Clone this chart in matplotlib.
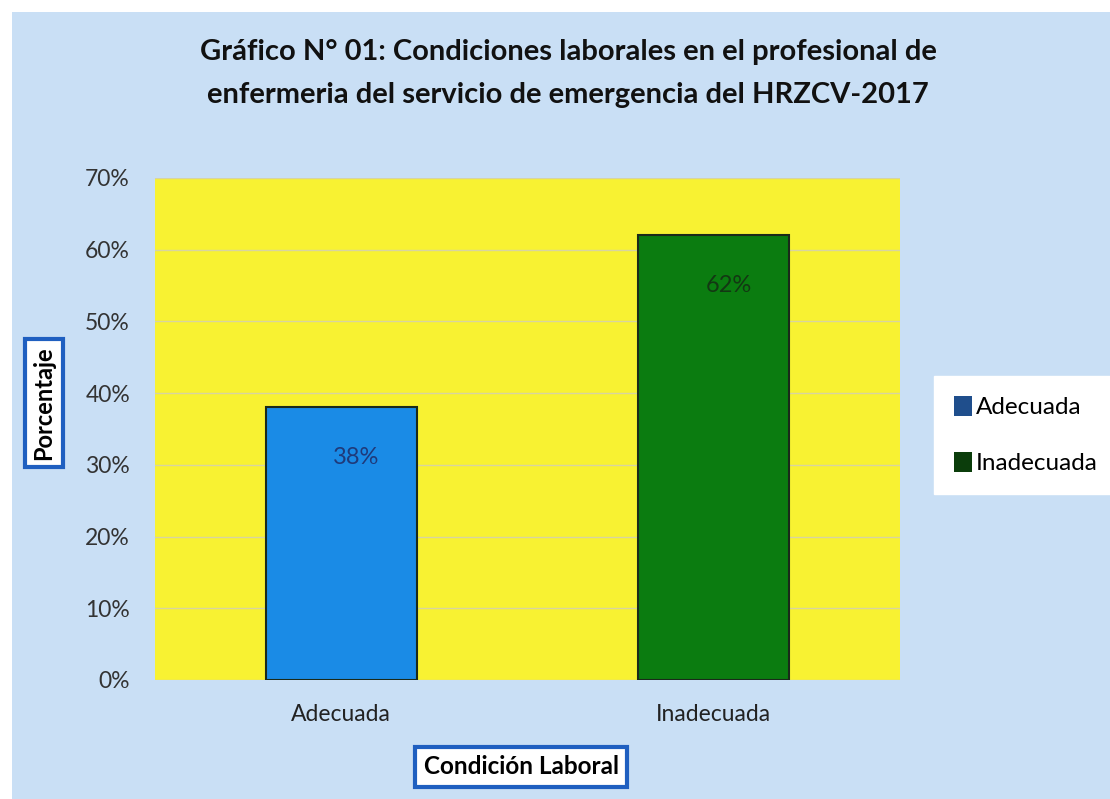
import matplotlib.pyplot as plt
from matplotlib.patches import Rectangle, Patch

categories = ['Adecuada', 'Inadecuada']
values = [38, 62]
labels = ['38%', '62%']
yticks = [0, 10, 20, 30, 40, 50, 60, 70]

plt.rcParams['font.family'] = ['Lato', 'DejaVu Sans']

fig = plt.figure(figsize=(11.1, 7.99), dpi=100)
fig.patch.set_facecolor('white')
fig.patches.append(Rectangle((12 / 1110, 0), 1, 1 - 12 / 799, transform=fig.transFigure,
                             facecolor='#C9DFF5', edgecolor='none', zorder=-10))

ax = fig.add_axes([155 / 1110, 1 - 680 / 799, 745 / 1110, 502 / 799])
ax.set_facecolor('#F8F232')

x = list(range(len(categories)))
bars = ax.bar(x, values, width=0.405, color=['#1A8BE6', '#0B7C10'],
              edgecolor='#1a2a1a', linewidth=1.5, zorder=3)
for xi, v, lab, c in zip(x, values, labels, ['#1F3A7A', '#133813']):
    ax.text(xi + 0.04, v - 7, lab, ha='center', va='center', fontsize=17,
            color=c, zorder=4)

ax.set_xlim(-0.5, 1.5)
ax.set_ylim(0, 70)
ax.set_yticks(yticks)
ax.set_yticklabels([f'{t}%' for t in yticks], fontsize=16.5, color='#333333')
ax.set_xticks(x)
ax.set_xticklabels(categories, fontsize=16.5, color='#222222')
ax.tick_params(axis='y', length=0, pad=18)
ax.tick_params(axis='x', length=0, pad=17)
ax.grid(axis='y', color='#D8D4A0', linewidth=1, zorder=0)
for s in ax.spines.values():
    s.set_visible(False)

fig.text(0.512, 1 - 52 / 799, 'Gráfico N° 01: Condiciones laborales en el profesional de',
         ha='center', va='center', fontsize=21, fontweight='bold', color='#111111')
fig.text(0.512, 1 - 95 / 799, 'enfermeria del servicio de emergencia del HRZCV-2017',
         ha='center', va='center', fontsize=21, fontweight='bold', color='#111111')

fig.text(44 / 1110, 1 - 403 / 799, 'Porcentaje', rotation=90, ha='center', va='center',
         fontsize=17, fontweight='bold',
         bbox=dict(boxstyle='square,pad=0.3', facecolor='white', edgecolor='#1F5FC0', linewidth=3))
fig.text(521 / 1110, 1 - 767 / 799, 'Condición Laboral', ha='center', va='center',
         fontsize=17.5, fontweight='bold',
         bbox=dict(boxstyle='square,pad=0.35', facecolor='white', edgecolor='#1F5FC0', linewidth=3))

handles = [Patch(facecolor='#1F4E8C'), Patch(facecolor='#0B3D0B')]
leg = fig.legend(handles, categories, loc='center left', bbox_to_anchor=(922 / 1110, 1 - 435 / 799),
                 fontsize=17.5, frameon=True, fancybox=False, handlelength=0.75, handleheight=0.9,
                 handletextpad=0.15, labelspacing=1.4, borderpad=0.8)
leg.get_frame().set_facecolor('white')
leg.get_frame().set_edgecolor('white')
leg.get_frame().set_alpha(1)

fig.savefig('out.png', dpi=100)
